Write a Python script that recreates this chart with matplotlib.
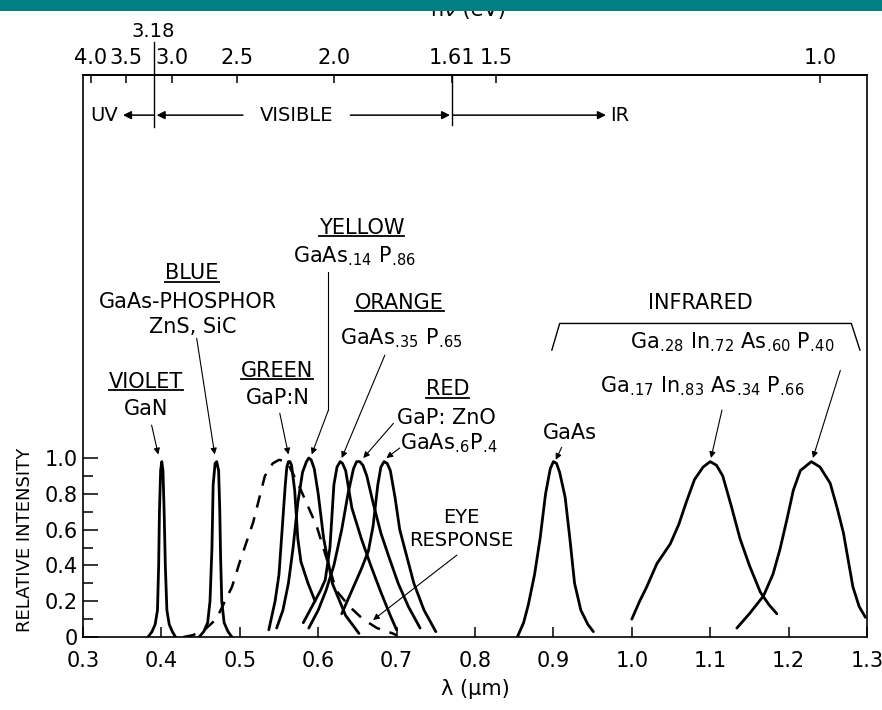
import numpy as np
import matplotlib
matplotlib.use("Agg")
import matplotlib.pyplot as plt
from matplotlib.lines import Line2D
from matplotlib.patches import Rectangle
import matplotlib.transforms as mtransforms

plt.rcParams['font.family'] = ['DejaVu Sans']
plt.rcParams['mathtext.default'] = 'regular'

# emission spectra (wavelength in um, relative intensity)
gan_x = [0.383, 0.388, 0.392, 0.395, 0.3965, 0.3975, 0.399, 0.4005, 0.402, 0.4035, 0.405, 0.407, 0.410, 0.414, 0.418]
gan_y = [0.0, 0.03, 0.07, 0.15, 0.40, 0.70, 0.93, 0.98, 0.93, 0.70, 0.40, 0.15, 0.07, 0.03, 0.0]

blue_x = [0.448, 0.454, 0.459, 0.462, 0.4645, 0.466, 0.4685, 0.4705, 0.473, 0.4745, 0.4755, 0.477, 0.480, 0.485, 0.490]
blue_y = [0.0, 0.03, 0.08, 0.20, 0.50, 0.85, 0.97, 0.98, 0.93, 0.70, 0.45, 0.20, 0.08, 0.03, 0.0]

eye_x = [0.428, 0.44, 0.455, 0.47, 0.49, 0.50, 0.517, 0.532, 0.542, 0.55, 0.56, 0.575, 0.598, 0.61, 0.623, 0.64, 0.657, 0.675, 0.695, 0.70]
eye_y = [0.0, 0.01, 0.04, 0.10, 0.28, 0.42, 0.64, 0.90, 0.97, 0.99, 0.98, 0.85, 0.62, 0.45, 0.26, 0.17, 0.10, 0.05, 0.02, 0.01]

green_x = [0.537, 0.545, 0.550, 0.554, 0.558, 0.560, 0.562, 0.564, 0.566, 0.570, 0.574, 0.578, 0.587, 0.596]
green_y = [0.04, 0.20, 0.35, 0.60, 0.85, 0.95, 0.98, 0.98, 0.96, 0.82, 0.55, 0.42, 0.30, 0.20]

yellow_x = [0.547, 0.555, 0.562, 0.568, 0.574, 0.580, 0.585, 0.588, 0.591, 0.595, 0.600, 0.607, 0.618, 0.635, 0.652]
yellow_y = [0.05, 0.15, 0.30, 0.50, 0.75, 0.92, 0.98, 1.00, 0.99, 0.94, 0.80, 0.55, 0.30, 0.12, 0.02]

orange_x = [0.581, 0.592, 0.603, 0.609, 0.615, 0.620, 0.624, 0.628, 0.631, 0.635, 0.643, 0.655, 0.667, 0.680, 0.692, 0.700]
orange_y = [0.08, 0.17, 0.26, 0.32, 0.50, 0.85, 0.95, 0.98, 0.97, 0.93, 0.72, 0.55, 0.40, 0.25, 0.12, 0.04]

red_x = [0.588, 0.600, 0.610, 0.620, 0.630, 0.638, 0.645, 0.649, 0.653, 0.657, 0.662, 0.670, 0.680, 0.690, 0.702, 0.715, 0.730]
red_y = [0.05, 0.15, 0.26, 0.40, 0.60, 0.80, 0.94, 0.98, 0.98, 0.96, 0.90, 0.75, 0.58, 0.45, 0.30, 0.17, 0.05]

gaasp_x = [0.630, 0.642, 0.655, 0.664, 0.670, 0.676, 0.680, 0.684, 0.688, 0.692, 0.698, 0.704, 0.713, 0.722, 0.735, 0.750]
gaasp_y = [0.13, 0.25, 0.38, 0.48, 0.62, 0.85, 0.95, 0.98, 0.97, 0.93, 0.78, 0.60, 0.45, 0.30, 0.15, 0.03]

gaas_x = [0.854, 0.862, 0.868, 0.876, 0.883, 0.890, 0.896, 0.900, 0.904, 0.908, 0.915, 0.921, 0.927, 0.935, 0.944, 0.951]
gaas_y = [0.0, 0.08, 0.18, 0.35, 0.55, 0.80, 0.94, 0.98, 0.97, 0.92, 0.78, 0.55, 0.30, 0.15, 0.07, 0.03]

ir1_x = [1.000, 1.010, 1.019, 1.032, 1.049, 1.060, 1.070, 1.080, 1.091, 1.100, 1.108, 1.116, 1.127, 1.138, 1.150, 1.164, 1.175, 1.185]
ir1_y = [0.10, 0.20, 0.28, 0.41, 0.52, 0.63, 0.76, 0.88, 0.95, 0.98, 0.96, 0.90, 0.73, 0.55, 0.40, 0.25, 0.18, 0.13]

ir2_x = [1.134, 1.150, 1.168, 1.180, 1.189, 1.198, 1.206, 1.215, 1.229, 1.240, 1.253, 1.262, 1.270, 1.282, 1.290, 1.298]
ir2_y = [0.05, 0.13, 0.23, 0.35, 0.49, 0.66, 0.82, 0.93, 0.98, 0.95, 0.86, 0.72, 0.58, 0.28, 0.17, 0.11]

x_ticks = [0.3, 0.4, 0.5, 0.6, 0.7, 0.8, 0.9, 1.0, 1.1, 1.2, 1.3]
y_ticks = [0, 0.2, 0.4, 0.6, 0.8, 1.0]
y_labels = ["0", "0.2", "0.4", "0.6", "0.8", "1.0"]
ev_ticks = [4.0, 3.5, 3.0, 2.5, 2.0, 1.61, 1.5, 1.0]
ev_labels = ["4.0", "3.5", "3.0", "2.5", "2.0", "1.61", "1.5", "1.0"]
uv_edge = 3.18
ir_edge = 1.61

FS = 15


def to_ev(x):
    x = np.asarray(x, dtype=float)
    with np.errstate(divide='ignore', invalid='ignore'):
        return 1.24 / np.where(x == 0, 1e-9, x)


def sub(s):
    # subscript like ".14" without mathtext's extra space after the dot
    return r"$_{.\!" + s + "}$"


def arrow(ax, start, tip, lw=0.8, ms=9):
    ax.annotate('', xy=tip, xytext=start,
                arrowprops=dict(arrowstyle='-|>', color='k', lw=lw,
                                mutation_scale=ms, shrinkA=0, shrinkB=0))


def main():
    fig = plt.figure(figsize=(8.82, 7.10), dpi=100)
    ax = fig.add_axes([0.0941, 0.1028, 0.8889, 0.7915])

    for xs, ys in [(gan_x, gan_y), (blue_x, blue_y), (green_x, green_y),
                   (yellow_x, yellow_y), (orange_x, orange_y), (red_x, red_y),
                   (gaasp_x, gaasp_y), (gaas_x, gaas_y), (ir1_x, ir1_y), (ir2_x, ir2_y)]:
        ax.plot(xs, ys, color='k', lw=2.0, solid_joinstyle='round', solid_capstyle='round')
    ax.plot(eye_x, eye_y, color='k', lw=1.8, linestyle=(0, (5, 4)))

    ax.set_xlim(0.3, 1.3)
    ax.set_ylim(0, 3.14)
    for s in ax.spines.values():
        s.set_linewidth(1.2)

    ax.set_xticks(x_ticks)
    ax.set_xticklabels([f"{v:.1f}" for v in x_ticks])
    ax.set_yticks(y_ticks)
    ax.set_yticklabels(y_labels)
    ax.set_yticks([0.1, 0.3, 0.5, 0.7, 0.9], minor=True)
    ax.tick_params(axis='x', direction='in', length=7, width=1.1, labelsize=FS, pad=10)
    ax.tick_params(axis='y', which='major', direction='in', length=11, width=1.1, labelsize=FS, pad=4)
    ax.tick_params(axis='y', which='minor', direction='in', length=7, width=1.1)
    ax.set_xlabel("λ (μm)", fontsize=FS, labelpad=6)
    ax.text(-0.074, 0.54, "RELATIVE INTENSITY", rotation=90, fontsize=13,
            ha='center', va='center', transform=mtransforms.blended_transform_factory(ax.transAxes, ax.transData))

    # photon energy axis on top
    sec = ax.secondary_xaxis('top', functions=(to_ev, to_ev))
    sec.set_xticks(ev_ticks)
    sec.set_xticklabels(ev_labels)
    sec.tick_params(direction='in', length=6, width=1.1, labelsize=FS, pad=5)
    sec.spines['top'].set_linewidth(1.2)

    lam_uv = 1.24 / uv_edge
    lam_ir = 1.24 / ir_edge
    ax.axvline(lam_uv, ymin=0.907, ymax=1.059, color='k', lw=1.0, clip_on=False)
    ax.axvline(lam_ir, ymin=0.911, ymax=1.0, color='k', lw=1.0, clip_on=False)
    bt = mtransforms.blended_transform_factory(ax.transData, ax.transAxes)
    ax.text(lam_uv, 1.077, "3.18", fontsize=FS - 1, ha='center', va='center', transform=bt)
    fig.text(0.531, 1 - 20 / 710, "hν (eV)", fontsize=FS, ha='center', va='bottom')
    fig.add_artist(Rectangle((0, 1 - 11 / 710), 1, 11 / 710, transform=fig.transFigure,
                             facecolor='#008080', edgecolor='none', zorder=10))

    # UV / VISIBLE / IR row
    yr = 2.916
    ax.text(0.309, yr, "UV", fontsize=14, va='center', ha='left')
    arrow(ax, (lam_uv, yr), (0.351, yr), lw=1.1, ms=12)
    arrow(ax, (0.504, yr), (lam_uv + 0.004, yr), lw=1.1, ms=12)
    ax.text(0.573, yr, "VISIBLE", fontsize=14, va='center', ha='center')
    arrow(ax, (0.641, yr), (lam_ir - 0.002, yr), lw=1.1, ms=12)
    arrow(ax, (lam_ir + 0.002, yr), (0.967, yr), lw=1.1, ms=12)
    ax.text(0.972, yr, "IR", fontsize=14, va='center', ha='left')

    # labels
    heads = []
    heads.append(ax.text(0.3804, 1.426, "VIOLET", fontsize=FS, ha='center', va='center'))
    ax.text(0.381, 1.274, "GaN", fontsize=FS, ha='center', va='center')
    arrow(ax, (0.3875, 1.184), (0.396, 1.02))

    heads.append(ax.text(0.439, 2.032, "BLUE", fontsize=FS, ha='center', va='center'))
    ax.text(0.434, 1.873, "GaAs-PHOSPHOR", fontsize=FS, ha='center', va='center')
    ax.text(0.440, 1.733, "ZnS, SiC", fontsize=FS, ha='center', va='center')
    arrow(ax, (0.445, 1.669), (0.468, 1.02))

    heads.append(ax.text(0.547, 1.487, "GREEN", fontsize=FS, ha='center', va='center'))
    ax.text(0.549, 1.335, "GaP:N", fontsize=FS, ha='center', va='center')
    arrow(ax, (0.551, 1.25), (0.562, 1.02))

    heads.append(ax.text(0.655, 2.288, "YELLOW", fontsize=FS, ha='center', va='center'))
    ax.text(0.646, 2.13, "GaAs" + sub("14") + " P" + sub("86"), fontsize=FS, ha='center', va='center')
    ax.plot([0.613, 0.613], [2.04, 1.268], color='k', lw=0.8)
    arrow(ax, (0.613, 1.268), (0.5917, 1.02))

    heads.append(ax.text(0.704, 1.869, "ORANGE", fontsize=FS, ha='center', va='center'))
    ax.text(0.706, 1.67, "GaAs" + sub("35") + " P" + sub("65"), fontsize=FS, ha='center', va='center')
    arrow(ax, (0.685, 1.575), (0.630, 1.0))

    heads.append(ax.text(0.765, 1.385, "RED", fontsize=FS, ha='center', va='center'))
    ax.text(0.700, 1.222, "GaP: ZnO", fontsize=FS, ha='left', va='center')
    ax.text(0.704, 1.084, "GaAs" + sub("6") + "P" + sub("4"), fontsize=FS, ha='left', va='center')
    arrow(ax, (0.696, 1.194), (0.6575, 1.0))
    arrow(ax, (0.704, 1.056), (0.687, 1.0))

    ax.text(0.782, 0.67, "EYE", fontsize=FS - 1, ha='center', va='center')
    ax.text(0.782, 0.542, "RESPONSE", fontsize=FS - 1, ha='center', va='center')
    arrow(ax, (0.777, 0.458), (0.670, 0.095))

    ax.text(0.921, 1.14, "GaAs", fontsize=FS, ha='center', va='center')
    arrow(ax, (0.9106, 1.06), (0.903, 0.99))

    ax.text(1.088, 1.869, "INFRARED", fontsize=FS, ha='center', va='center')
    ax.plot([0.898, 0.908, 1.280, 1.291], [1.603, 1.752, 1.752, 1.603], color='k', lw=1.0)
    ax.text(0.998, 1.65, "Ga" + sub("28") + " In" + sub("72") + " As" + sub("60") + " P" + sub("40"),
            fontsize=FS, ha='left', va='center')
    ax.text(0.959, 1.40, "Ga" + sub("17") + " In" + sub("83") + " As" + sub("34") + " P" + sub("66"),
            fontsize=FS, ha='left', va='center')
    arrow(ax, (1.115, 1.268), (1.101, 1.0))
    arrow(ax, (1.266, 1.49), (1.231, 1.0))

    # underline the colour names
    fig.canvas.draw()
    inv = fig.transFigure.inverted()
    for t in heads:
        bb = t.get_window_extent()
        (x0, y0), (x1, y1) = inv.transform([[bb.x0, bb.y0], [bb.x1, bb.y1]])
        fig.add_artist(Line2D([x0, x1], [y0 + 0.002, y0 + 0.002], color='k', lw=1.3))

    fig.savefig("out.png", dpi=100, facecolor='white')


if __name__ == "__main__":
    main()
